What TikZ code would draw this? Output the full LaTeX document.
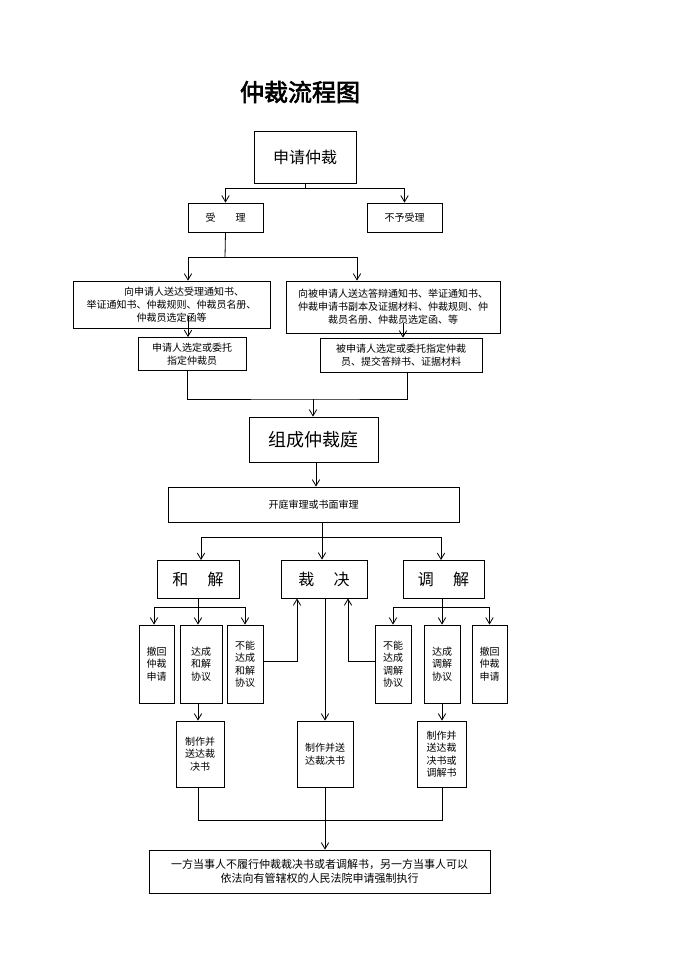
\documentclass[tikz,border=0pt]{standalone}
\usepackage{fontspec}
\setmainfont{Noto Sans CJK SC}[AutoFakeBold=2.5]
\usetikzlibrary{arrows.meta,positioning}
\begin{document}
\begin{tikzpicture}[
		x=1pt, y=-1pt,
		box/.style={draw, thick, align=center, inner sep=1pt, font=\fontsize{10}{13}\selectfont},
		big/.style={box, font=\fontsize{16}{18}\selectfont},
		col/.style={box, minimum height=78pt, font=\fontsize{10}{12.5}\selectfont},
		arr/.style={-{Straight Barb[length=2.2mm, width=2.6mm]}, thick},
		ln/.style={thick}
	]
	\useasboundingbox (0,0) rectangle (690,975);
	\node[font=\bfseries\fontsize{24}{26}\selectfont] (title) at (300,92) {仲裁流程图};

	% application and acceptance
	\node[big, minimum width=102pt, minimum height=52pt] (apply) at (305,157) {申请仲裁};
	\node[box, minimum width=75pt, minimum height=29pt] (accept) at (225.5,217.5) {受\hspace{2em}理};
	\node[box, minimum width=75pt, minimum height=29pt] (reject) at (404.5,217.5) {不予受理};
	\node[box, minimum width=197pt, minimum height=47pt] (notea) at (171.5,304.5)
		{\hspace{2.5em}向申请人送达受理通知书、\\举证通知书、仲裁规则、仲裁员名册、\\仲裁员选定函等\hspace{8em}};
	\node[box, minimum width=214pt, minimum height=52pt] (noteb) at (393,307)
		{向被申请人送达答辩通知书、举证通知书、\\仲裁申请书副本及证据材料、仲裁规则、仲\\裁员名册、仲裁员选定函、等};
	\node[box, minimum width=108pt, minimum height=33pt] (picka) at (192,354) {申请人选定或委托\\指定仲裁员};
	\node[box, minimum width=162pt, minimum height=34pt] (pickb) at (401,355) {被申请人选定或委托指定仲裁\\员、提交答辩书、证据材料};

	% tribunal and hearing
	\node[box, minimum width=129pt, minimum height=45pt, font=\fontsize{18}{20}\selectfont] (court) at (313.5,439.5) {组成仲裁庭};
	\node[box, minimum width=291pt, minimum height=35pt] (hear) at (313.5,504.5) {开庭审理或书面审理};
	\node[big, minimum width=82pt, minimum height=38pt] (settle) at (198,579) {和\hspace{1.2em}解};
	\node[big, minimum width=86pt, minimum height=38pt] (award) at (324,579) {裁\hspace{1.2em}决};
	\node[big, minimum width=81pt, minimum height=38pt] (mediate) at (443.5,579) {调\hspace{1.2em}解};

	% outcomes
	\node[col, minimum width=35pt] (sw) at (156.5,664) {撤回\\仲裁\\申请};
	\node[col, minimum width=42pt] (sok) at (201,664) {达成\\和解\\协议};
	\node[col, minimum width=36pt] (sno) at (245,664) {不能\\达成\\和解\\协议};
	\node[col, minimum width=36pt] (mno) at (393,664) {不能\\达成\\调解\\协议};
	\node[col, minimum width=36pt] (mok) at (442,664) {达成\\调解\\协议};
	\node[col, minimum width=35pt] (mw) at (489.5,664) {撤回\\仲裁\\申请};
	\node[col, minimum width=48pt, minimum height=66pt] (doca) at (200,754) {制作并\\送达裁\\决书};
	\node[col, minimum width=56pt, minimum height=66pt] (docb) at (325,754) {制作并送\\达裁决书};
	\node[col, minimum width=49pt, minimum height=66pt] (docc) at (441.5,754) {制作并\\送达裁\\决书或\\调解书};
	\node[box, minimum width=341pt, minimum height=43pt, font=\fontsize{11}{14}\selectfont] (exec) at (319.5,871.5)
		{一方当事人不履行仲裁裁决书或者调解书，另一方当事人可以\\依法向有管辖权的人民法院申请强制执行};

	% junctions
	\coordinate (j1) at (305,188);
	\coordinate (j2) at (225,257);
	\coordinate (j2a) at (188,257);
	\coordinate (j2b) at (357,257);
	\coordinate (j3a) at (188,316);
	\coordinate (j3b) at (403,323);
	\coordinate (j4) at (313,399);
	\coordinate (j5) at (322,537);
	\coordinate (j6) at (198,607);
	\coordinate (j7) at (442,607);
	\coordinate (j8) at (297,661);
	\coordinate (j9) at (348,661);
	\coordinate (j10) at (325,820);

	\draw[ln] (apply.south -| j1) -- (j1);
	\draw[arr] (j1) -| (accept.north);
	\draw[arr] (j1) -| (reject.north);
	\draw[ln] (accept.south) -- (j2);
	\draw[ln] (j2a) -- (j2b);
	\draw[arr] (j2a) -- (j2a |- notea.north);
	\draw[arr] (j2b) -- (j2b |- noteb.north);
	\draw[arr] (j3a) -- (j3a |- picka.north);
	\draw[arr] (j3b) -- (j3b |- pickb.north);
	\draw[ln] (picka.south -| 187,0) |- (j4) -| (pickb.south -| 407,0);
	\draw[arr] (j4) -- (court.north -| j4);
	\draw[arr] (court.south -| 316,0) -- (hear.north -| 316,0);
	\draw[ln] (hear.south -| j5) -- (j5);
	\draw[arr] (j5) -| (201,560);
	\draw[arr] (j5) -- (j5 |- award.north);
	\draw[arr] (j5) -| (441,560);
	\draw[ln] (settle.south -| j6) -- (j6);
	\draw[arr] (j6) -| (sw.north -| 154,0);
	\draw[arr] (j6) -- (j6 |- sok.north);
	\draw[arr] (j6) -| (sno.north);
	\draw[ln] (mediate.south -| j7) -- (j7);
	\draw[arr] (j7) -| (mno.north);
	\draw[arr] (j7) -- (j7 |- mok.north);
	\draw[arr] (j7) -| (mw.north);
	\draw[arr] (sno.east |- j8) -- (j8) -- (j8 |- award.south);
	\draw[arr] (mno.west |- j9) -- (j9) -- (j9 |- award.south);
	\draw[arr] (award.south -| docb) -- (docb.north);
	\draw[arr] (sok.south -| j6) -- (j6 |- doca.north);
	\draw[arr] (mok.south) -- (mok.south |- docc.north);
	\draw[ln] (doca.south -| j6) |- (j10) -| (docc.south -| j7);
	\draw[ln] (docb.south) -- (j10);
	\draw[arr] (j10) -- (exec.north -| j10);
\end{tikzpicture}
\end{document}
